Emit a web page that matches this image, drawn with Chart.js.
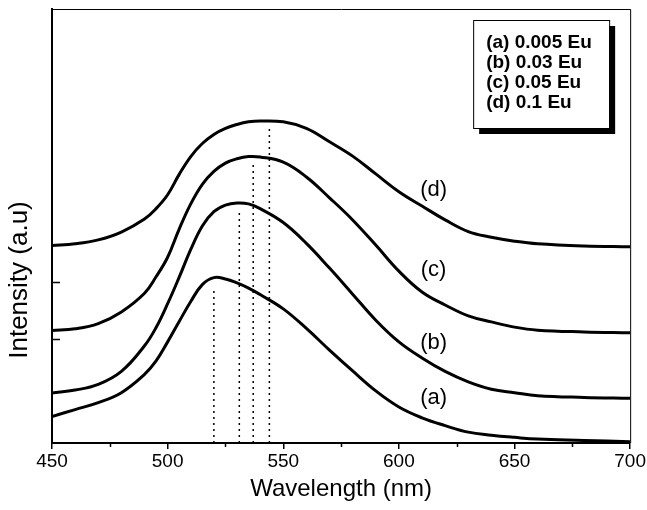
<!DOCTYPE html>
<html>
<head>
<meta charset="utf-8">
<script src="https://cdn.jsdelivr.net/npm/chart.js@4.4.0/dist/chart.umd.min.js"></script>
<style>
  html, body { margin: 0; padding: 0; background: #fff; }
  #wrap { width: 647px; height: 510px; }
</style>
</head>
<body>
<div id="wrap"><canvas id="spectra"></canvas></div>
<script>
// Emission spectra, values (arbitrary intensity units)
const wavelength = [450, 460, 470, 480, 490, 495, 500, 505, 510, 515, 520, 525, 530, 535, 540,
                    550, 560, 570, 580, 590, 600, 610, 620, 630, 640, 650, 660, 680, 700];
const seriesA = [6.1, 7.7, 9.3, 11.6, 15.8, 18.9, 23.3, 28.0, 32.6, 36.5, 38.1, 37.8, 36.9, 35.7, 34.2,
                 30.9, 26.4, 21.4, 16.6, 12.0, 8.3, 5.8, 4.0, 2.5, 1.8, 1.3, 0.9, 0.6, 0.3];
const seriesB = [11.5, 12.2, 13.5, 16.5, 22.4, 26.6, 32.1, 38.2, 44.6, 50.0, 53.3, 54.8, 55.3, 55.1, 54.0,
                 50.8, 46.0, 40.3, 34.3, 28.3, 23.3, 19.6, 16.5, 14.1, 12.4, 11.6, 10.9, 10.5, 10.3];
const seriesC = [25.9, 26.3, 27.5, 30.2, 34.5, 38.3, 42.8, 49.3, 55.1, 59.6, 62.6, 64.5, 65.5, 66.0, 65.9,
                 64.7, 61.3, 56.5, 51.4, 45.6, 39.6, 34.8, 31.8, 29.3, 27.9, 26.7, 26.0, 25.6, 25.4];
const seriesD = [45.5, 45.9, 46.8, 48.6, 51.6, 54.0, 57.2, 61.9, 66.0, 69.0, 71.1, 72.5, 73.4, 74.0, 74.2,
                 74.0, 72.5, 69.4, 66.1, 62.0, 57.9, 54.6, 51.4, 48.7, 47.4, 46.5, 45.9, 45.4, 45.2];

const seriesNames = ['(a)', '(b)', '(c)', '(d)'];
const legendLabels = ['(a) 0.005 Eu', '(b) 0.03 Eu', '(c) 0.05 Eu', '(d) 0.1 Eu'];

// dotted peak markers
const peakWavelength = [520, 531, 537, 544];
const peakTop = [35.9, 53.2, 64.5, 72.8];

// curve label anchors
const labelWavelength = 615;
const labelIntensity = [10.4, 23.0, 39.9, 58.3];

const xMinorTicks = [475, 525, 575, 625, 675];
const yTickMarks = [24.0, 37.1];

const FONT = '"Liberation Sans", Arial, Helvetica, sans-serif';

const toPoints = (ys) => wavelength.map((w, i) => ({ x: w, y: ys[i] }));

const datasets = [seriesA, seriesB, seriesC, seriesD].map((ys, i) => ({
    label: seriesNames[i],
    data: toPoints(ys),
    borderColor: '#000',
    borderWidth: 3,
    pointRadius: 0,
    fill: false,
    tension: 0.4
}));

peakWavelength.forEach((w, i) => {
    datasets.push({
        label: 'peak ' + w,
        data: [{ x: w, y: 0 }, { x: w, y: peakTop[i] }],
        borderColor: '#000',
        borderWidth: 1.5,
        borderDash: [2, 4],
        pointRadius: 0,
        fill: false
    });
});

// frame, minor ticks, y title, curve labels and the shadowed legend box
const decorations = {
    id: 'decorations',
    afterDraw(chart) {
        const { ctx, chartArea: area, scales: { x, y } } = chart;
        ctx.save();
        ctx.strokeStyle = '#000';

        // top and right frame
        ctx.lineWidth = 1;
        ctx.beginPath();
        ctx.moveTo(area.left, area.top + 0.5);
        ctx.lineTo(area.right + 0.5, area.top + 0.5);
        ctx.lineTo(area.right + 0.5, area.bottom);
        ctx.stroke();

        // minor x ticks
        ctx.lineWidth = 1.5;
        ctx.beginPath();
        xMinorTicks.forEach(v => {
            const px = Math.round(x.getPixelForValue(v)) + 0.5;
            ctx.moveTo(px, area.bottom);
            ctx.lineTo(px, area.bottom + 4);
        });
        // inward y ticks
        yTickMarks.forEach(v => {
            const py = Math.round(y.getPixelForValue(v)) + 0.5;
            ctx.moveTo(area.left, py);
            ctx.lineTo(area.left + 8, py);
        });
        ctx.stroke();

        // y axis title, sitting a little below the axis middle
        ctx.fillStyle = '#000';
        ctx.save();
        ctx.translate(20, 280);
        ctx.rotate(-Math.PI / 2);
        ctx.font = '26px ' + FONT;
        ctx.textAlign = 'center';
        ctx.textBaseline = 'middle';
        ctx.fillText('Intensity (a.u)', 0, 0);
        ctx.restore();

        // curve labels
        ctx.font = '22px ' + FONT;
        ctx.textAlign = 'center';
        ctx.textBaseline = 'middle';
        seriesNames.forEach((t, i) => {
            ctx.fillText(t, x.getPixelForValue(labelWavelength), y.getPixelForValue(labelIntensity[i]));
        });

        // legend box with drop shadow
        const bx = area.right - 157, by = area.top + 11, bw = 136, bh = 108, sh = 6;
        ctx.fillStyle = '#000';
        ctx.fillRect(bx + sh, by + sh, bw, bh);
        ctx.fillStyle = '#fff';
        ctx.fillRect(bx, by, bw, bh);
        ctx.lineWidth = 1;
        ctx.strokeRect(bx + 0.5, by + 0.5, bw, bh);

        ctx.fillStyle = '#000';
        ctx.font = 'bold 19px ' + FONT;
        ctx.textAlign = 'left';
        legendLabels.forEach((t, i) => {
            ctx.fillText(t, bx + 13, by + 23 + i * 20);
        });
        ctx.restore();
    }
};

new Chart(document.getElementById('spectra'), {
    type: 'line',
    data: { datasets: datasets },
    options: {
        responsive: true,
        maintainAspectRatio: false,
        animation: false,
        events: [],
        layout: { padding: { top: 9, right: 15, left: 0, bottom: 0 } },
        plugins: {
            legend: { display: false },
            tooltip: { enabled: false }
        },
        scales: {
            x: {
                type: 'linear',
                min: 450,
                max: 700,
                ticks: {
                    stepSize: 50,
                    padding: 1,
                    color: '#000',
                    font: { family: FONT, size: 19 }
                },
                grid: {
                    drawOnChartArea: false,
                    tickLength: 6,
                    lineWidth: 1.5,
                    color: '#000'
                },
                border: { display: true, color: '#000', width: 2 },
                title: {
                    display: true,
                    text: 'Wavelength (nm)',
                    color: '#000',
                    font: { family: FONT, size: 24 },
                    padding: { top: 0, bottom: 6 }
                },
                afterFit(scale) { scale.height = 67; }
            },
            y: {
                min: 0,
                max: 100,
                ticks: { display: false },
                grid: { display: false },
                border: { display: true, color: '#000', width: 2 },
                afterFit(scale) { scale.width = 52; }
            }
        }
    },
    plugins: [decorations]
});
</script>
</body>
</html>
